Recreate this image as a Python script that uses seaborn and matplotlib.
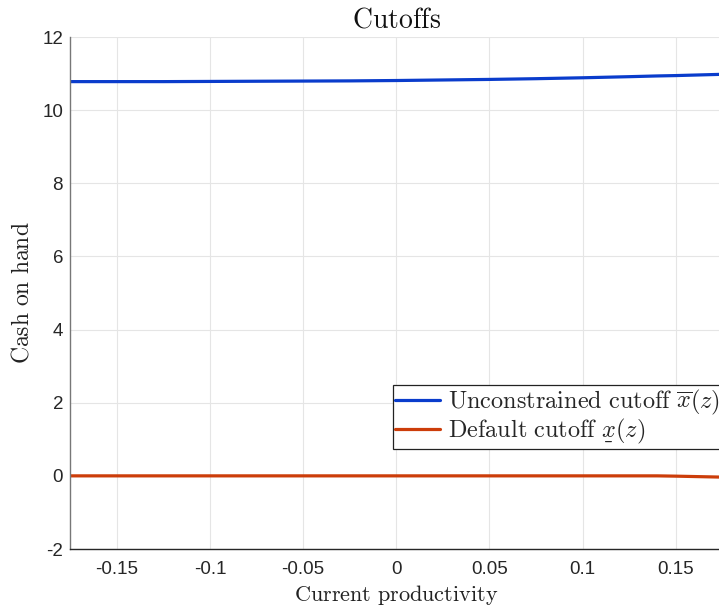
import numpy as np
import pandas as pd
import matplotlib
matplotlib.use("Agg")
import matplotlib.pyplot as plt
import seaborn as sns

# ---- data ----
z = [-0.1752, -0.15, -0.125, -0.1, -0.075, -0.05, -0.025, 0.0, 0.025, 0.05,
     0.075, 0.1, 0.125, 0.14, 0.15, 0.1752]
upper_cutoff = [10.78, 10.78, 10.78, 10.785, 10.79, 10.795, 10.80, 10.81, 10.825,
                10.84, 10.86, 10.885, 10.915, 10.935, 10.945, 10.98]
default_cutoff = [0.0, 0.0, 0.0, 0.0, 0.0, 0.0, 0.0, 0.0, 0.0, 0.0,
                  0.0, 0.0, 0.0, 0.0, -0.008, -0.035]
x_ticks = [-0.15, -0.1, -0.05, 0, 0.05, 0.1, 0.15]
x_tick_labels = ["-0.15", "-0.1", "-0.05", "0", "0.05", "0.1", "0.15"]
y_ticks = [-2, 0, 2, 4, 6, 8, 10, 12]
y_tick_labels = ["-2", "0", "2", "4", "6", "8", "10", "12"]

sns.set_theme(style="white")
plt.rcParams["font.family"] = ["Liberation Sans", "DejaVu Sans"]
plt.rcParams["mathtext.fontset"] = "cm"
plt.rcParams["axes.unicode_minus"] = False

from matplotlib.mathtext import MathTextParser
_p = MathTextParser("agg")
low_lbl = r"$\mathrm{Default\ cutoff}\ x(z)$"
for cand in [r"$\mathrm{Default\ cutoff}\ \underset{\_}{x}(z)$",
             r"$\mathrm{Default\ cutoff}\ \underset{-}{x}(z)$"]:
    try:
        _p.parse(cand, dpi=100)
        low_lbl = cand
        break
    except Exception:
        pass
up_lbl = r"$\mathrm{Unconstrained\ cutoff}\ \overline{x}(z)$"

df = pd.DataFrame({
    "z": z * 2,
    "value": upper_cutoff + default_cutoff,
    "series": [up_lbl] * len(z) + [low_lbl] * len(z),
})

fig = plt.figure(figsize=(7.19, 6.15), dpi=100)
ax = fig.add_axes([70 / 719, 66 / 615, 652.6 / 719, 512 / 615])

sns.lineplot(data=df, x="z", y="value", hue="series",
             palette={up_lbl: "#0A3CCC", low_lbl: "#CC3D0A"},
             linewidth=2.3, ax=ax, legend=True)

ax.set_xlim(-0.1752, 0.1752)
ax.set_ylim(-2, 12)
ax.set_xticks(x_ticks)
ax.set_xticklabels(x_tick_labels)
ax.set_yticks(y_ticks)
ax.set_yticklabels(y_tick_labels)
ax.grid(True, color="#E5E5E5", linewidth=0.8)
ax.set_axisbelow(True)
for s in ["top", "right"]:
    ax.spines[s].set_visible(False)
ax.spines["left"].set_color("#777777")
ax.spines["bottom"].set_color("#262626")
ax.spines["left"].set_linewidth(1.0)
ax.spines["bottom"].set_linewidth(1.0)
ax.tick_params(axis="both", direction="in", length=5, width=0.8,
               labelsize=13.5, colors="#262626")
ax.tick_params(axis="x", pad=9)
ax.tick_params(axis="y", pad=5, colors="#555555", labelcolor="#262626")

ax.set_title(r"$\mathrm{Cutoffs}$", fontsize=20, pad=7, color="#111111")
ax.set_xlabel(r"$\mathrm{Current\ productivity}$", fontsize=16, labelpad=3, color="#222222")
ax.set_ylabel(r"$\mathrm{Cash\ on\ hand}$", fontsize=17, labelpad=6, color="#222222")

leg = ax.legend(loc="lower right", bbox_to_anchor=(1.0, 0.1953), fontsize=17.5,
                frameon=True, fancybox=False, edgecolor="#222222",
                framealpha=1.0, borderpad=0.12, handlelength=1.85,
                handletextpad=0.3, labelspacing=0.0, borderaxespad=0)
leg.get_frame().set_linewidth(0.9)

fig.savefig("out.png", dpi=100)
